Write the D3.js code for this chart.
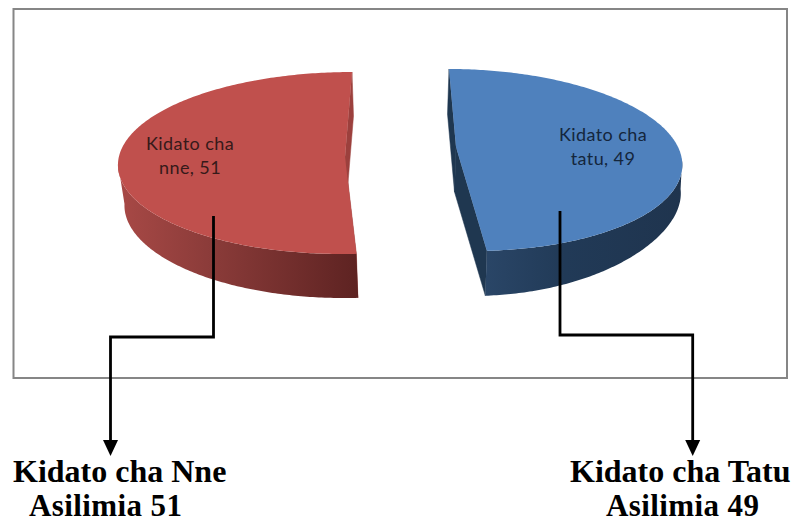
<!DOCTYPE html>
<html><head><meta charset="utf-8">
<script src="https://cdn.jsdelivr.net/npm/d3@7"></script>
<style>html,body{margin:0;padding:0;background:#fff}svg{display:block}</style></head>
<body><svg id="c" width="796" height="523"></svg>
<script>
const categories = ["Kidato cha Tatu", "Kidato cha Nne"];
const values = [49, 51];
const sliceLabels = [["Kidato cha", "tatu, 49"], ["Kidato cha", "nne, 51"]];
const calloutTitles = ["Kidato cha Tatu", "Kidato cha Nne"];
const calloutValues = ["Asilimia 49", "Asilimia 51"];

const geom = [
  {cx:461, cy:160, rx:221, ry:91, shear:12, vx:456, vy:147, dx:-1.5, xTaper:0, dy:45, yTaper:0.37,
   top:"#4f81bd", wall:"#1f3750", side:["#2e4b6e","#213a57","#1f344e"], stops:[0,0.5,1],
   lab:[603,141,165], labCol:"#14263c",
   path:[[560,211],[560,335],[692.7,335],[692.7,440]], titleX:570, subX:606},
  {cx:347, cy:163, rx:229, ry:91, shear:-5, vx:345, vy:157, dx:1.5, xTaper:5, dy:44, yTaper:0.08,
   top:"#c0504d", wall:"#9c403d", side:["#a84946","#8a3b39","#5e2322"], stops:[0,0.4,1],
   lab:[190,150,174], labCol:"#361a1a",
   path:[[213.5,216],[213.5,337],[110.5,337],[110.5,440]], titleX:13, subX:29}
];

const svg = d3.select("#c");
const defs = svg.append("defs");
svg.append("rect").attr("x",13.5).attr("y",9).attr("width",773.5).attr("height",369)
  .attr("fill","#fff").attr("stroke","#868686").attr("stroke-width",2);

const pie = d3.pie().sort(null).value(d=>d)(values);

function rimPoint(g,a){
  const u=Math.sin(a), v=-Math.cos(a);
  return [g.cx+g.rx*u+g.shear*v, g.cy+g.ry*v];
}
const line = d3.line();

pie.forEach((p,i)=>{
  const g=geom[i];
  const id="side"+i;
  const n=240;
  const angles=d3.range(n+1).map(k=>p.startAngle+(p.endAngle-p.startAngle)*k/n);
  const rim=angles.map(a=>rimPoint(g,a));
  const xs=d3.extent(rim,q=>q[0]);
  const lg=defs.append("linearGradient").attr("id",id).attr("gradientUnits","userSpaceOnUse")
    .attr("x1",xs[0]).attr("x2",xs[1]).attr("y1",0).attr("y2",0);
  g.side.forEach((c,k)=>lg.append("stop").attr("offset",g.stops[k]).attr("stop-color",c));

  const off=q=>[q[0]+g.dx,q[1]+g.dy];
  const offAt=a=>{
    const q=rimPoint(g,a), u=Math.sin(a);
    return [q[0]+g.dx+g.xTaper*Math.abs(u), q[1]+g.dy*(1-g.yTaper*u*u)];
  };
  const V=[g.vx,g.vy];
  const first=rim[0], last=rim[n];

  // inner walls
  [[first,V],[V,last]].forEach(e=>{
    svg.append("path").attr("d",line([e[0],e[1],off(e[1]),off(e[0])])+"Z")
      .attr("fill",g.wall).attr("stroke",g.wall).attr("stroke-width",0.5);
  });
  // outer rim side: front half only
  const front=angles.filter(a=>-Math.cos(a)>=0);
  svg.append("path").attr("d",line(front.map(a=>rimPoint(g,a)).concat(front.map(offAt).reverse()))+"Z")
    .attr("fill",`url(#${id})`);
  // top face
  svg.append("path").attr("d",line([V].concat(rim))+"Z").attr("fill",g.top);

  // slice label
  sliceLabels[i].forEach((t,k)=>{
    svg.append("text").attr("x",g.lab[0]).attr("y",g.lab[k+1]).attr("text-anchor","middle")
      .attr("font-family","Lato, 'Open Sans', sans-serif").attr("font-size",18)
      .attr("letter-spacing",0.4).attr("fill",g.labCol).text(t);
  });
});

pie.forEach((p,i)=>{
  const g=geom[i];
  svg.append("path").attr("d",line(g.path)).attr("fill","none").attr("stroke","#000")
    .attr("stroke-width",2.8).attr("stroke-linejoin","miter");
  const end=g.path[g.path.length-1];
  svg.append("path").attr("d",d3.line()([[end[0]-7.5,end[1]],[end[0]+7.5,end[1]],[end[0],end[1]+16]])+"Z").attr("fill","#000");
  svg.append("text").attr("x",g.titleX).attr("y",482).attr("font-family","'Liberation Serif',serif")
    .attr("font-weight","bold").attr("font-size",32).attr("fill","#000").text(calloutTitles[i]);
  svg.append("text").attr("x",g.subX).attr("y",516).attr("font-family","'Liberation Serif',serif")
    .attr("font-weight","bold").attr("font-size",31).attr("letter-spacing",0.4).attr("fill","#000").text(calloutValues[i]);
});
</script></body></html>
